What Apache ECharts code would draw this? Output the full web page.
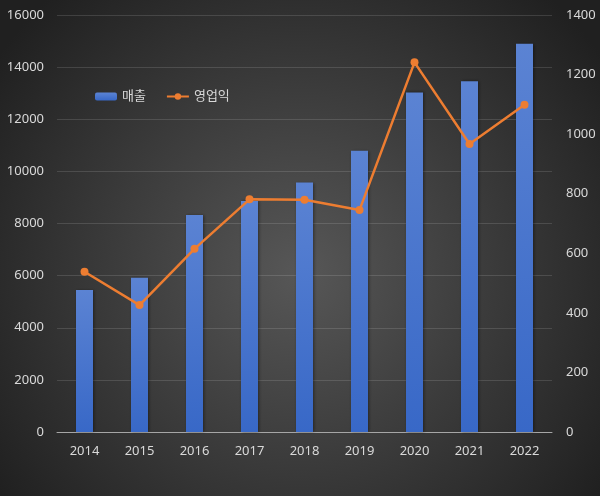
<!DOCTYPE html>
<html>
<head>
<meta charset="utf-8">
<script src="https://cdn.jsdelivr.net/npm/echarts@6/dist/echarts.min.js"></script>
<style>
  html, body { margin: 0; padding: 0; }
  #main { width: 600px; height: 496px; }
</style>
</head>
<body>
<div id="main"></div>
<script>
var years = ['2014', '2015', '2016', '2017', '2018', '2019', '2020', '2021', '2022'];
var sales = [5450, 5920, 8330, 8860, 9570, 10790, 13030, 13460, 14900];
var profit = [538, 426, 615, 781, 780, 745, 1241, 967, 1099];

var textColor = '#d9d9d9';
var fontFamily = '"Noto Sans", "Noto Sans CJK KR", sans-serif';

// 천 단위 쉼표 없이 표시
function plain(v) {
    return String(v);
}

var myChart = echarts.init(document.getElementById('main'));
myChart.setOption({
    backgroundColor: {
        type: 'radial', x: 0.5, y: 0.55, r: 0.75,
        colorStops: [
            {offset: 0, color: '#575757'},
            {offset: 1, color: '#202020'}
        ]
    },
    textStyle: {fontFamily: fontFamily},
    grid: {left: 57, right: 48, top: 15, bottom: 64},
    legend: {
        left: 90, top: 85,
        itemWidth: 22, itemHeight: 8, itemGap: 20,
        textStyle: {color: textColor, fontSize: 13, fontFamily: fontFamily},
        data: ['매출', '영업익']
    },
    xAxis: {
        type: 'category',
        data: years,
        axisTick: {show: false},
        axisLine: {lineStyle: {color: '#a6a6a6', width: 1}},
        axisLabel: {color: textColor, fontSize: 13, margin: 13}
    },
    yAxis: [
        {
            type: 'value', min: 0, max: 16000, interval: 2000,
            axisLabel: {color: textColor, fontSize: 13, margin: 13, formatter: plain},
            splitLine: {lineStyle: {color: 'rgba(255,255,255,0.13)'}},
            axisLine: {show: false}
        },
        {
            type: 'value', min: 0, max: 1400, interval: 200,
            axisLabel: {color: textColor, fontSize: 13, margin: 14, formatter: plain},
            splitLine: {show: false},
            axisLine: {show: false}
        }
    ],
    series: [
        {
            name: '매출',
            type: 'bar',
            data: sales,
            barWidth: 17,
            itemStyle: {
                color: {
                    type: 'linear', x: 0, y: 0, x2: 0, y2: 1,
                    colorStops: [
                        {offset: 0, color: '#5b83d3'},
                        {offset: 1, color: '#3868c7'}
                    ]
                },
                shadowColor: 'rgba(0,0,0,0.45)',
                shadowBlur: 3,
                shadowOffsetX: 1
            }
        },
        {
            name: '영업익',
            type: 'line',
            yAxisIndex: 1,
            data: profit,
            symbol: 'circle',
            symbolSize: 8,
            lineStyle: {color: '#ed7d31', width: 2.5},
            itemStyle: {color: '#ed7d31'}
        }
    ]
});
</script>
</body>
</html>
